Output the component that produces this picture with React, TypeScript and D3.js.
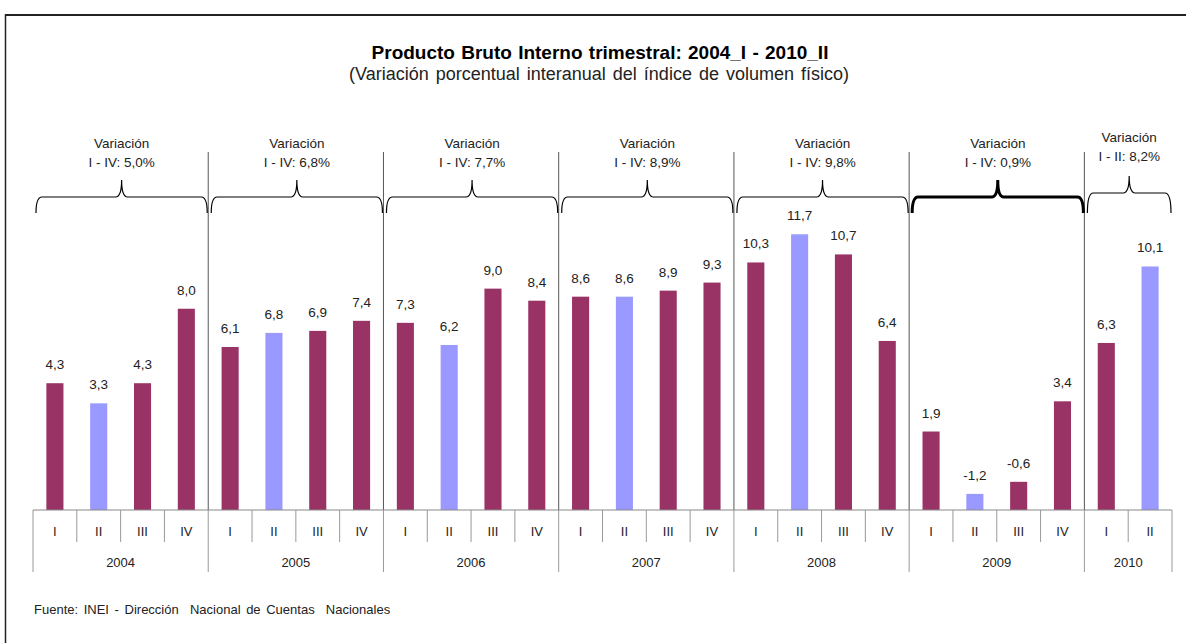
import React from 'react'
import * as d3 from 'd3'

// quarterly GDP growth, % change vs same quarter of previous year
const years = ['2004', '2005', '2006', '2007', '2008', '2009', '2010']
const quartersPerYear = [4, 4, 4, 4, 4, 4, 2]
const quarterNames = ['I', 'II', 'III', 'IV']
const growth = [
  4.3, 3.3, 4.3, 8.0,
  6.1, 6.8, 6.9, 7.4,
  7.3, 6.2, 9.0, 8.4,
  8.6, 8.6, 8.9, 9.3,
  10.3, 11.7, 10.7, 6.4,
  1.9, -1.2, -0.6, 3.4,
  6.3, 10.1,
]
const periodLabels = [
  'I - IV: 5,0%', 'I - IV: 6,8%', 'I - IV: 7,7%', 'I - IV: 8,9%',
  'I - IV: 9,8%', 'I - IV: 0,9%', 'I - II: 8,2%',
]
const highlightYear = '2009'

const W = 1186
const H = 643
const font = '"Liberation Sans", Arial, sans-serif'
const maroon = '#993366'
const lilac = '#9999FF'

type Q = { key: string, year: string, q: string, value: number }

const rows: Q[] = []
let k = 0
years.forEach((yr, i) => {
  for (let j = 0; j < quartersPerYear[i]; j++) {
    rows.push({ key: yr + '_' + quarterNames[j], year: yr, q: quarterNames[j], value: growth[k] })
    k++
  }
})

const fmt = (v: number) => v.toFixed(1).replace('.', ',')

const bracePath = (x0: number, x1: number, yh: number, yb: number, yp: number) => {
  const m = (x0 + x1) / 2
  const r = 6
  return `M${x0},${yb} Q${x0},${yh} ${x0 + r},${yh} L${m - r},${yh} Q${m},${yh} ${m},${yp} Q${m},${yh} ${m + r},${yh} L${x1 - r},${yh} Q${x1},${yh} ${x1},${yb}`
}

const App = () => {
  const axisY = 510
  const x = d3.scaleBand<string>()
    .domain(rows.map(d => d.key))
    .range([33, 1172])
    .padding(0)
  const y = d3.scaleLinear()
    .domain([-2, 14])
    .range([axisY, 188])
  const bw = x.bandwidth()
  const barW = bw * 0.39

  const groups = years.map((yr, i) => {
    const qs = rows.filter(d => d.year === yr)
    const x0 = x(qs[0].key)!
    const x1 = x(qs[qs.length - 1].key)! + bw
    return { yr, x0, x1, label: periodLabels[i], last: i === years.length - 1 }
  })

  return (
    <svg width={W} height={H} style={{ position: 'absolute', left: 0, top: 0, background: '#fff' }}
      fontFamily={font}>
      {/* frame */}
      <line x1={5} x2={W} y1={15} y2={15} stroke="#222" strokeWidth={2} />
      <line x1={5.5} x2={5.5} y1={14} y2={H} stroke="#222" strokeWidth={1.5} />

      <text x={600} y={59} textAnchor="middle" fontSize={19} fontWeight="bold" fill="#000" wordSpacing={1}>
        Producto Bruto Interno trimestral: 2004_I - 2010_II
      </text>
      <text x={599} y={80} textAnchor="middle" fontSize={18} fill="#222" wordSpacing={2}>
        (Variación porcentual interanual del índice de volumen físico)
      </text>

      {/* year separators */}
      {groups.slice(1).map(g => (
        <line key={'sep' + g.yr} x1={g.x0} x2={g.x0} y1={152} y2={axisY} stroke="#555" strokeWidth={1} />
      ))}

      {/* braces and annual labels */}
      {groups.map(g => {
        const up = g.last ? -4 : 0
        const cx = (g.x0 + 3 + g.x1 - 1) / 2
        return (
          <g key={'br' + g.yr}>
            <path d={bracePath(g.x0 + 3, g.x1 - 1, 197 + up, 213, 180 + up)} fill="none" stroke="#000"
              strokeWidth={g.yr === highlightYear ? 3 : 1.2} />
            <text x={cx} y={148 + up * 1.5} textAnchor="middle" fontSize={13.5} fill="#222">Variación</text>
            <text x={cx} y={167 + up * 1.5} textAnchor="middle" fontSize={13.5} fill="#222" style={{ whiteSpace: 'pre' }}>
              {g.label}
            </text>
          </g>
        )
      })}

      {/* bars */}
      {rows.map(d => {
        const cx = x(d.key)! + bw / 2
        return (
          <g key={d.key}>
            <rect x={cx - barW / 2} y={y(d.value)} width={barW} height={axisY - y(d.value)}
              fill={d.q === 'II' ? lilac : maroon} />
            <text x={cx} y={y(d.value) - 14} textAnchor="middle" fontSize={13.5} fill="#222">
              {fmt(d.value)}
            </text>
          </g>
        )
      })}

      {/* category axis */}
      <line x1={33} x2={1172} y1={axisY} y2={axisY} stroke="#888" strokeWidth={1} />
      {rows.map(d => {
        const x0 = x(d.key)!
        return (
          <g key={'ax' + d.key}>
            {d.q !== 'I' && <line x1={x0} x2={x0} y1={axisY} y2={542} stroke="#999" />}
            <text x={x0 + bw / 2} y={536} textAnchor="middle" fontSize={13} fill="#222">{d.q}</text>
          </g>
        )
      })}
      {groups.map(g => (
        <line key={'yt' + g.yr} x1={g.x0} x2={g.x0} y1={axisY} y2={572} stroke="#999" />
      ))}
      <line x1={1172} x2={1172} y1={axisY} y2={572} stroke="#999" />
      {groups.map(g => (
        <text key={'yl' + g.yr} x={(g.x0 + g.x1) / 2} y={567} textAnchor="middle" fontSize={13} fill="#222">
          {g.yr}
        </text>
      ))}

      <text x={34} y={614} fontSize={13} fill="#222" wordSpacing={2} style={{ whiteSpace: 'pre' }}>
        {'Fuente: INEI - Dirección  Nacional de Cuentas  Nacionales'}
      </text>
    </svg>
  )
}

export default App
